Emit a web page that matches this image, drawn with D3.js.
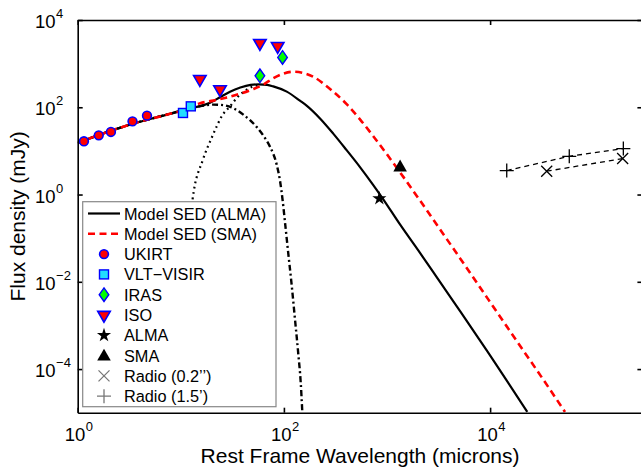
<!DOCTYPE html>
<html><head><meta charset="utf-8">
<script src="https://cdn.jsdelivr.net/npm/d3@7"></script>
<style>body{margin:0;background:#fff}svg{display:block}text{font-family:"Liberation Sans",Arial,Helvetica,sans-serif}</style>
</head><body>
<svg id="c" width="641" height="470"></svg>
<script>
// ---- data ----
const ukirtWl = [1.15, 1.6, 2.1, 3.4, 4.7];
const ukirtFlux = [16.6, 22.7, 27.2, 47.6, 64.2];
const visirWl = [10.5, 12.5];
const visirFlux = [74, 105];
const irasWl = [58.5, 97];
const irasFlux = [526, 1385];
const isoWl = [15.3, 24, 58.5, 87];
const isoFlux = [440, 257, 2960, 2530];
const almaWl = [843];
const almaFlux = [0.81];
const smaWl = [1340];
const smaFlux = [4.4];
const radio02Wl = [35400, 193000];
const radio02Flux = [3.42, 6.67];
const radio15Wl = [14500, 58600, 196000];
const radio15Flux = [3.54, 7.52, 11.3];

const sedAlmaWl = [1.0, 1.64, 3.46, 7.3, 11.4, 15.4, 19.2, 24.0, 30.0, 37.8, 47.5, 57.3, 68.8, 78.8, 106.6, 143, 166, 224, 301, 406, 547, 736, 889, 1337, 2090, 3034, 4400, 9270, 22950];
const sedAlmaFlux = [15.2, 23.6, 42.2, 67.7, 90.5, 106, 127, 170, 228, 284, 326, 336, 326, 301, 228, 141.6, 109, 55.4, 24.9, 10.4, 4.26, 1.65, 0.877, 0.206, 0.0459, 0.0128, 0.00356, 2.69e-4, 1.04e-5];
const sedSmaWl = [1.0, 1.64, 3.46, 7.3, 11.4, 15.4, 20.7, 27.4, 37.7, 50.1, 62.8, 78.8, 98.0, 123, 153, 193, 239, 301, 406, 547, 736, 993, 1439, 2090, 3266, 5105, 6870, 11590, 19500, 32800, 53300];
const sedSmaFlux = [15.2, 23.6, 42.2, 67.7, 90.5, 124, 142, 166, 205, 260, 329, 463, 587, 653, 613, 501, 356, 228, 118, 52.9, 21.7, 8.49, 2.54, 0.729, 0.160, 0.0347, 0.0125, 0.00206, 3.43e-4, 5.72e-5, 1.04e-5];
const coldWl = [12.3, 13.0, 16.4, 19.9, 22.3, 24.9, 30.0, 36.1, 43.6, 50.5, 60];
const coldFlux = [0.25, 0.769, 6.32, 19.8, 36.5, 61.9, 105, 178, 253, 301, 325];
const warmWl = [1.0, 1.64, 3.46, 7.3, 11.4, 15.4, 20.7, 25.8, 32.3, 40.4, 46.9, 54.6, 63.2, 73.3, 85.1, 91.6, 97.0, 102.3, 109.2, 118.8, 128.1, 138.0, 145.6, 150.8];
const warmFlux = [15.2, 23.6, 42.2, 67.7, 88, 106, 115, 112, 95.3, 67.7, 50.7, 35.1, 22.4, 12.5, 4.86, 2.09, 0.769, 0.241, 0.0551, 0.00872, 0.00138, 2.18e-4, 4.9e-5, 1.04e-5];

const xTicks = [1, 100, 1e4];
const xTickExp = ["0", "2", "4"];
const yTicks = [1e-4, 1e-2, 1, 100, 1e4];
const yTickExp = ["\u22124", "\u22122", "0", "2", "4"];

const legendLabels = ["Model SED (ALMA)", "Model SED (SMA)", "UKIRT", "VLT\u2212VISIR", "IRAS", "ISO", "ALMA", "SMA", "Radio (0.2\u2019\u2019)", "Radio (1.5\u2019)"];

// ---- layout ----
const L = 77.7, R = 642.4, T = 20, B = 412.7;
const svg = d3.select("#c");
const x = d3.scaleLog().domain([1, 3e5]).range([L, R]);
const y = d3.scaleLog().domain([1e-5, 1e4]).range([B, T]);
const zip = (a, b) => a.map((v, i) => [v, b[i]]);

svg.append("defs").append("clipPath").attr("id", "clip")
  .append("rect").attr("x", L).attr("y", T).attr("width", R - L).attr("height", B - T);

const plot = svg.append("g").attr("clip-path", "url(#clip)");
const line = d3.line().x(d => x(d[0])).y(d => y(d[1])).curve(d3.curveMonotoneX);

plot.append("path").datum(zip(coldWl, coldFlux)).attr("d", line)
  .attr("fill", "none").attr("stroke", "#000").attr("stroke-width", 2.2).attr("stroke-dasharray", "1.8,3.6");
plot.append("path").datum(zip(warmWl, warmFlux)).attr("d", line)
  .attr("fill", "none").attr("stroke", "#000").attr("stroke-width", 2.4).attr("stroke-dasharray", "6,3,2,3");
plot.append("path").datum(zip(sedAlmaWl, sedAlmaFlux)).attr("d", line)
  .attr("fill", "none").attr("stroke", "#000").attr("stroke-width", 2.2);
plot.append("path").datum(zip(sedSmaWl, sedSmaFlux)).attr("d", line)
  .attr("fill", "none").attr("stroke", "#ff0000").attr("stroke-width", 2.6).attr("stroke-dasharray", "7,4.5");

// radio dashed lines
const lin = d3.line().x(d => x(d[0])).y(d => y(d[1]));
plot.append("path").datum(zip(radio02Wl, radio02Flux)).attr("d", lin)
  .attr("fill", "none").attr("stroke", "#000").attr("stroke-width", 1.3).attr("stroke-dasharray", "5,4");
plot.append("path").datum(zip(radio15Wl, radio15Flux)).attr("d", lin)
  .attr("fill", "none").attr("stroke", "#000").attr("stroke-width", 1.3).attr("stroke-dasharray", "5,4");

// marker drawers
function mCircle(g, cx, cy) { g.append("circle").attr("cx", cx).attr("cy", cy).attr("r", 4.4).attr("fill", "#ff0000").attr("stroke", "#0000ff").attr("stroke-width", 1.6); }
function mSquare(g, cx, cy) { g.append("rect").attr("x", cx - 4.5).attr("y", cy - 4.5).attr("width", 9).attr("height", 9).attr("fill", "#22ddff").attr("stroke", "#0000ff").attr("stroke-width", 1.4); }
function mDiamond(g, cx, cy) { g.append("path").attr("d", `M${cx},${cy - 6.8}L${cx + 4.8},${cy}L${cx},${cy + 6.8}L${cx - 4.8},${cy}Z`).attr("fill", "#00ff00").attr("stroke", "#0000ff").attr("stroke-width", 1.4); }
function mTriDown(g, cx, cy) { g.append("path").attr("d", d3.symbol(d3.symbolTriangle, 68)()).attr("transform", `translate(${cx},${cy}) rotate(180)`).attr("fill", "#ff0000").attr("stroke", "#0000ff").attr("stroke-width", 1.6); }
function mStar(g, cx, cy) { g.append("path").attr("d", d3.symbol(d3.symbolStar, 62)()).attr("transform", `translate(${cx},${cy})`).attr("fill", "#000"); }
function mTriUp(g, cx, cy) { g.append("path").attr("d", d3.symbol(d3.symbolTriangle, 80)()).attr("transform", `translate(${cx},${cy + 1})`).attr("fill", "#000"); }
function mCross(g, cx, cy, col) { const s = 5.5; g.append("path").attr("d", `M${cx - s},${cy - s}L${cx + s},${cy + s}M${cx - s},${cy + s}L${cx + s},${cy - s}`).attr("stroke", col || "#000").attr("stroke-width", 1.3).attr("fill", "none"); }
function mPlus(g, cx, cy, col) { const s = 7; g.append("path").attr("d", `M${cx - s},${cy}L${cx + s},${cy}M${cx},${cy - s}L${cx},${cy + s}`).attr("stroke", col || "#000").attr("stroke-width", 1.3).attr("fill", "none"); }

const pts = svg.append("g");
zip(ukirtWl, ukirtFlux).forEach(d => mCircle(pts, x(d[0]), y(d[1])));
zip(visirWl, visirFlux).forEach(d => mSquare(pts, x(d[0]), y(d[1])));
zip(isoWl, isoFlux).forEach(d => mTriDown(pts, x(d[0]), y(d[1])));
zip(irasWl, irasFlux).forEach(d => mDiamond(pts, x(d[0]), y(d[1])));
zip(almaWl, almaFlux).forEach(d => mStar(pts, x(d[0]), y(d[1])));
zip(smaWl, smaFlux).forEach(d => mTriUp(pts, x(d[0]), y(d[1])));
zip(radio02Wl, radio02Flux).forEach(d => mCross(pts, x(d[0]), y(d[1])));
zip(radio15Wl, radio15Flux).forEach(d => mPlus(pts, x(d[0]), y(d[1])));

// ---- axes ----
const ax = svg.append("g");
function styleAxis(g) { g.select(".domain").attr("stroke", "#000").attr("stroke-width", 1.6); g.selectAll(".tick line").attr("stroke", "#000").attr("stroke-width", 1.6); g.selectAll(".tick text").remove(); }
ax.append("g").attr("transform", `translate(0,${B})`).call(d3.axisBottom(x).tickValues(xTicks).tickSizeInner(-5).tickSizeOuter(0).tickFormat(() => "")).call(styleAxis);
ax.append("g").attr("transform", `translate(0,${T})`).call(d3.axisTop(x).tickValues(xTicks).tickSizeInner(-5).tickSizeOuter(0).tickFormat(() => "")).call(styleAxis);
ax.append("g").attr("transform", `translate(${L},0)`).call(d3.axisLeft(y).tickValues(yTicks).tickSizeInner(-5).tickSizeOuter(0).tickFormat(() => "")).call(styleAxis);
ax.append("g").attr("transform", `translate(${R},0)`).call(d3.axisRight(y).tickValues(yTicks).tickSizeInner(-5).tickSizeOuter(0).tickFormat(() => "")).call(styleAxis);

// tick labels: base "10" and exponent as separate texts
function powLabel(px, py, exp, centered) {
  const base = svg.append("text").attr("y", py).attr("font-size", 18.5).attr("fill", "#000").text("10");
  const e = svg.append("text").attr("y", py - 10).attr("font-size", 13).attr("fill", "#000").text(exp);
  const wb = base.node().getComputedTextLength(), we = e.node().getComputedTextLength();
  const x0 = centered ? px - (wb + we) / 2 : px;
  base.attr("x", x0);
  e.attr("x", x0 + wb + 0.5);
}
xTicks.forEach((v, i) => powLabel(x(v) + 1, B + 28.5, xTickExp[i], true));
yTicks.forEach((v, i) => powLabel(35, y(v) + 8, yTickExp[i], false));

// axis titles
svg.append("text").attr("x", (L + R) / 2).attr("y", 462.5).attr("text-anchor", "middle").attr("font-size", 21).text("Rest Frame Wavelength (microns)");
svg.append("text").attr("transform", `translate(25,${(T + B) / 2}) rotate(-90)`).attr("text-anchor", "middle").attr("font-size", 21).text("Flux density (mJy)");

// ---- legend ----
const lg = svg.append("g");
lg.append("rect").attr("x", 82.7).attr("y", 201.7).attr("width", 193.3).attr("height", 205).attr("fill", "#fff").attr("stroke", "#888").attr("stroke-width", 1.2);
const ly = i => 213.5 + 20.3 * i;
lg.append("line").attr("x1", 88).attr("x2", 120).attr("y1", ly(0)).attr("y2", ly(0)).attr("stroke", "#000").attr("stroke-width", 2.2);
lg.append("line").attr("x1", 88).attr("x2", 120).attr("y1", ly(1)).attr("y2", ly(1)).attr("stroke", "#ff0000").attr("stroke-width", 2.6).attr("stroke-dasharray", "7,4.5");
mCircle(lg, 104, ly(2));
mSquare(lg, 104, ly(3));
mDiamond(lg, 104, ly(4));
mTriDown(lg, 104, ly(5));
mStar(lg, 104, ly(6));
mTriUp(lg, 104, ly(7));
mCross(lg, 104, ly(8), "#777");
mPlus(lg, 104, ly(9), "#777");
legendLabels.forEach((s, i) => {
  lg.append("text").attr("x", 124).attr("y", ly(i) + 6).attr("font-size", 16.3).attr("fill", "#000").text(s);
});
</script>
</body></html>
